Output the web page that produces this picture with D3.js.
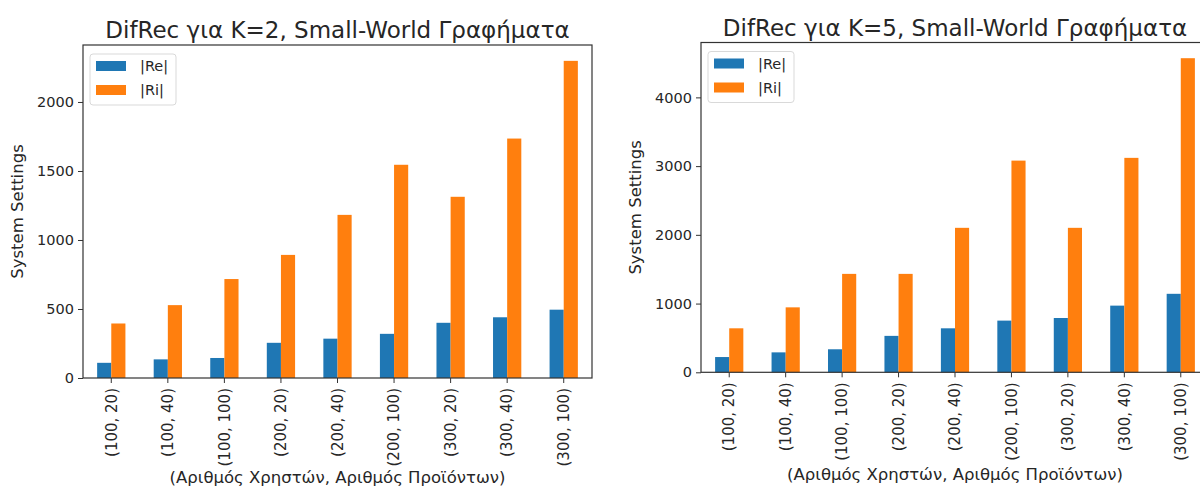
<!DOCTYPE html>
<html>
<head>
<meta charset="utf-8">
<script src="https://cdn.jsdelivr.net/npm/d3@7/dist/d3.min.js"></script>
<style>
  html, body { margin: 0; padding: 0; background: #fff; }
  svg { display: block; }
  text { font-family: "DejaVu Sans", sans-serif; fill: #262626; }
</style>
</head>
<body>
<svg id="chart" width="1200" height="488"></svg>
<script>
// Category labels: (users, products)
const categories = ["(100, 20)", "(100, 40)", "(100, 100)", "(200, 20)", "(200, 40)",
                    "(200, 100)", "(300, 20)", "(300, 40)", "(300, 100)"];
const seriesNames = ["|Re|", "|Ri|"];

// K = 2
const reK2 = [110, 135, 145, 255, 285, 320, 400, 440, 495];
const riK2 = [395, 528, 717, 892, 1182, 1545, 1313, 1735, 2298];

// K = 5
const reK5 = [222, 290, 335, 530, 640, 752, 790, 970, 1142];
const riK5 = [640, 945, 1432, 1432, 2102, 3080, 2102, 3120, 4570];

const ticksK2 = [0, 500, 1000, 1500, 2000];
const ticksK5 = [0, 1000, 2000, 3000, 4000];

const titles = ["DifRec για K=2, Small-World Γραφήματα", "DifRec για K=5, Small-World Γραφήματα"];
const yLabel = "System Settings";
const xLabel = "(Αριθμός Χρηστών, Αριθμός Προϊόντων)";

const colors = ["#1f77b4", "#ff7f0e"];
const svg = d3.select("#chart");

function panel(cfg) {
  const { left, right, top, bottom, re, ri, ticks, title } = cfg;
  const g = svg.append("g");
  const maxV = d3.max(re.concat(ri)) * 1.05;

  const x = d3.scaleBand().domain(categories).range([left, right]).padding(0);
  const y = d3.scaleLinear().domain([0, maxV]).range([bottom, top]);
  const bw = x.bandwidth() * 0.25;

  // bars
  [re, ri].forEach((vals, si) => {
    g.append("g").selectAll("rect")
      .data(vals)
      .join("rect")
      .attr("x", (d, i) => x(categories[i]) + x.bandwidth() / 2 - bw + si * bw)
      .attr("y", d => y(d))
      .attr("width", bw)
      .attr("height", d => bottom - y(d))
      .attr("fill", colors[si]);
  });

  // axes
  const yAxis = d3.axisLeft(y).tickValues(ticks).tickSize(5).tickPadding(4).tickFormat(d3.format("d"));
  const ya = g.append("g").attr("transform", `translate(${left},0)`).call(yAxis);
  ya.select(".domain").remove();
  ya.selectAll("line").attr("stroke", "#333");
  ya.selectAll("text").style("font-size", "14.5px").attr("fill", "#262626");

  const xAxis = d3.axisBottom(x).tickSize(5).tickPadding(0);
  const xa = g.append("g").attr("transform", `translate(0,${bottom})`).call(xAxis);
  xa.select(".domain").remove();
  xa.selectAll("line").attr("stroke", "#333");
  xa.selectAll("text")
    .style("font-size", "15px")
    .attr("fill", "#262626")
    .attr("text-anchor", "end")
    .attr("dy", "0.35em")
    .attr("transform", "translate(0,10) rotate(-90)")
    .attr("x", 0).attr("y", 0);

  // frame
  g.append("rect")
    .attr("x", left).attr("y", top)
    .attr("width", right - left).attr("height", bottom - top)
    .attr("fill", "none").attr("stroke", "#333").attr("stroke-width", 1.2);

  // title
  g.append("text")
    .attr("x", (left + right) / 2).attr("y", top - 7)
    .attr("text-anchor", "middle")
    .style("font-size", "23px")
    .text(title);

  // axis labels
  g.append("text")
    .attr("transform", `translate(${cfg.yLabelX},${(top + bottom) / 2}) rotate(-90)`)
    .attr("text-anchor", "middle")
    .style("font-size", "16.5px")
    .text(yLabel);
  g.append("text")
    .attr("x", (left + right) / 2).attr("y", cfg.xLabelY)
    .attr("text-anchor", "middle")
    .style("font-size", "16.5px")
    .text(xLabel);

  // legend
  const lg = g.append("g").attr("transform", `translate(${left + 7},${top + 9})`);
  lg.append("rect")
    .attr("width", 86).attr("height", 51).attr("rx", 3)
    .attr("fill", "#fff").attr("stroke", "#d9d9d9");
  seriesNames.forEach((n, i) => {
    lg.append("rect")
      .attr("x", 6).attr("y", 7 + i * 24).attr("width", 30).attr("height", 10)
      .attr("fill", colors[i]);
    lg.append("text")
      .attr("x", 50).attr("y", 12 + i * 24).attr("dy", "0.35em")
      .style("font-size", "14.5px")
      .text(n);
  });
}

panel({ left: 83, right: 592, top: 45, bottom: 378, re: reK2, ri: riK2, ticks: ticksK2,
        title: titles[0], yLabelX: 23, xLabelY: 483 });
panel({ left: 701, right: 1209, top: 42.5, bottom: 372.3, re: reK5, ri: riK5, ticks: ticksK5,
        title: titles[1], yLabelX: 641, xLabelY: 480 });
</script>
</body>
</html>
